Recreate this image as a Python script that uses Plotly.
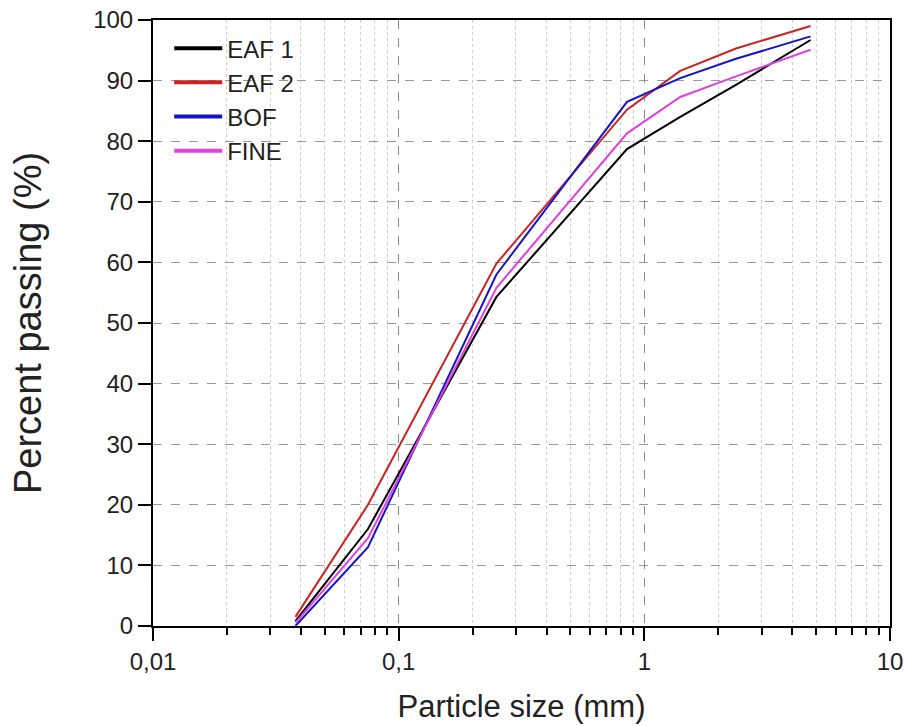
import plotly.graph_objects as go

sizes = [0.038, 0.075, 0.25, 0.85, 1.4, 2.36, 4.75]
eaf1 = [0.8, 16.0, 54.3, 78.7, 84.0, 89.3, 96.7]
eaf2 = [1.5, 20.0, 59.8, 85.2, 91.6, 95.3, 99.0]
bof = [0.0, 13.0, 58.0, 86.5, 90.4, 93.6, 97.3]
fine = [0.5, 14.5, 55.8, 81.3, 87.3, 90.7, 95.1]

names = ["EAF 1", "EAF 2", "BOF", "FINE"]
colors = ["#000000", "#CC2222", "#1414C8", "#E040E0"]
series = [eaf1, eaf2, bof, fine]

x_tickvals = [0.01, 0.1, 1, 10]
x_ticktext = ["0,01", "0,1", "1", "10"]
x_minorvals = [m * d for d in (0.01, 0.1, 1) for m in range(2, 10)]
y_tickvals = list(range(0, 101, 10))

fig = go.Figure()
for n, c, s in zip(names, colors, series):
    fig.add_trace(go.Scatter(x=sizes, y=s, mode="lines", name=n,
                             line=dict(color=c, width=2), showlegend=False))
# legend entries drawn with thicker lines, like the reference key
for n, c in zip(names, colors):
    fig.add_trace(go.Scatter(x=[None], y=[None], mode="lines", name=n,
                             line=dict(color=c, width=4), showlegend=True))

font = "Liberation Sans, Arial, sans-serif"
fig.update_layout(
    width=907, height=726,
    margin=dict(l=153, r=17, t=20, b=100),
    paper_bgcolor="white", plot_bgcolor="white",
    font=dict(family=font, color="#222222", size=24),
    legend=dict(x=0.022, y=0.99, xanchor="left", yanchor="top",
                bgcolor="rgba(0,0,0,0)", font=dict(size=24),
                tracegroupgap=0, itemwidth=48),
    xaxis=dict(
        type="log", range=[-2, 1], automargin=False,
        tickvals=x_tickvals, ticktext=x_ticktext,
        ticks="outside", ticklen=13, tickwidth=2, tickcolor="black",
        showline=True, linecolor="black", linewidth=2, mirror=True,
        showgrid=True, gridcolor="#888888", griddash="dash", gridwidth=1,
        minor=dict(tickvals=x_minorvals, ticks="outside", ticklen=7, tickwidth=2,
                   tickcolor="black", showgrid=True, gridcolor="#CCCCCC",
                   griddash="dot", gridwidth=1),
        tickfont=dict(size=24),
        title=dict(text="Particle size (mm)", font=dict(size=31), standoff=22),
        zeroline=False,
    ),
    yaxis=dict(
        range=[0, 100], tickvals=y_tickvals, automargin=False,
        ticks="outside", ticklen=13, tickwidth=2, tickcolor="black",
        showline=True, linecolor="black", linewidth=2, mirror=True,
        showgrid=True, gridcolor="#999999", griddash="dash", gridwidth=1,
        tickfont=dict(size=24),
        title=dict(text="Percent passing (%)", font=dict(size=38), standoff=40),
        zeroline=False,
    ),
)

fig.write_html("out.html")
